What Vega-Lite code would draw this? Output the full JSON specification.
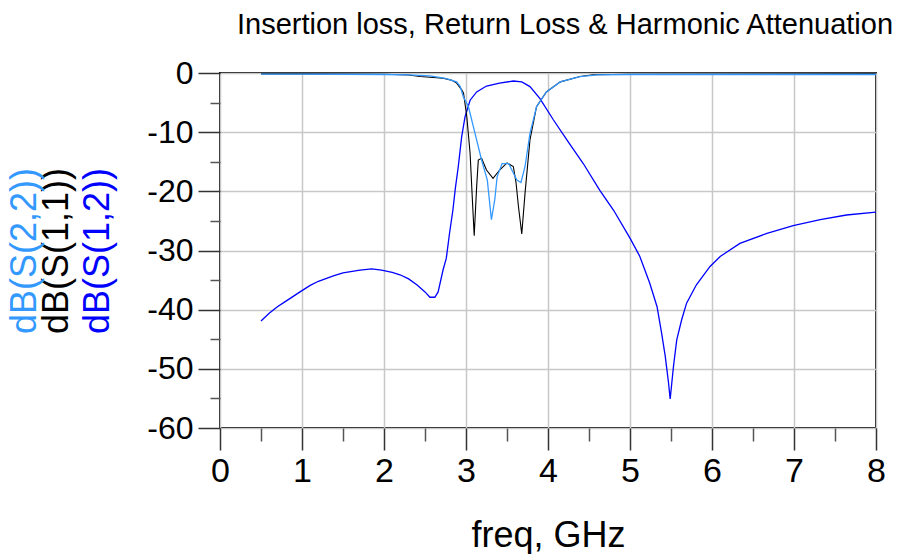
{
  "$schema": "https://vega.github.io/schema/vega-lite/v6.json",
  "width": 656,
  "height": 355,
  "autosize": "none",
  "padding": {"left": 220, "top": 73, "right": 26, "bottom": 126},
  "background": "white",
  "title": {
    "text": "Insertion loss, Return Loss & Harmonic Attenuation",
    "font": "Liberation Sans",
    "fontSize": 29,
    "fontWeight": "normal",
    "color": "black",
    "anchor": "middle",
    "frame": "group",
    "dx": 17,
    "offset": -6,
    "baseline": "alphabetic"
  },
  "config": {
    "view": {"stroke": "#111", "strokeWidth": 2},
    "axis": {
      "labelFont": "Liberation Sans",
      "titleFont": "Liberation Sans",
      "labelColor": "black",
      "titleColor": "black",
      "titleFontWeight": "normal",
      "gridColor": "#c8c8c8",
      "gridWidth": 1.5,
      "gridOpacity": 1,
      "tickColor": "#333",
      "tickWidth": 1.5,
      "domain": false
    }
  },
  "datasets": {
    "s12": [
      {"f": 0.5, "dB": -41.9}, {"f": 0.6, "dB": -40.6}, {"f": 0.7, "dB": -39.5}, {"f": 0.8, "dB": -38.6},
      {"f": 0.976, "dB": -37.0}, {"f": 1.1, "dB": -35.9}, {"f": 1.2, "dB": -35.2}, {"f": 1.382, "dB": -34.3},
      {"f": 1.5, "dB": -33.8}, {"f": 1.707, "dB": -33.3}, {"f": 1.85, "dB": -33.1}, {"f": 1.97, "dB": -33.3},
      {"f": 2.1, "dB": -33.7}, {"f": 2.195, "dB": -34.1}, {"f": 2.3, "dB": -34.8}, {"f": 2.4, "dB": -35.8},
      {"f": 2.5, "dB": -37.0}, {"f": 2.56, "dB": -37.9}, {"f": 2.62, "dB": -37.9}, {"f": 2.66, "dB": -37.0},
      {"f": 2.72, "dB": -33.3}, {"f": 2.76, "dB": -31.3}, {"f": 2.8, "dB": -27.0}, {"f": 2.84, "dB": -23.2},
      {"f": 2.87, "dB": -19.5}, {"f": 2.906, "dB": -15.8}, {"f": 2.947, "dB": -10.8}, {"f": 2.988, "dB": -7.4},
      {"f": 3.05, "dB": -4.6}, {"f": 3.13, "dB": -3.2}, {"f": 3.25, "dB": -2.2}, {"f": 3.41, "dB": -1.7},
      {"f": 3.577, "dB": -1.35}, {"f": 3.68, "dB": -1.5}, {"f": 3.78, "dB": -2.3}, {"f": 3.9, "dB": -4.3},
      {"f": 4.065, "dB": -7.9}, {"f": 4.23, "dB": -11.3}, {"f": 4.43, "dB": -15.3}, {"f": 4.63, "dB": -19.8},
      {"f": 4.8, "dB": -23.2}, {"f": 5.0, "dB": -27.9}, {"f": 5.12, "dB": -31.0}, {"f": 5.24, "dB": -35.5},
      {"f": 5.33, "dB": -39.5}, {"f": 5.386, "dB": -44.0}, {"f": 5.43, "dB": -47.9}, {"f": 5.47, "dB": -52.4},
      {"f": 5.49, "dB": -55.1}, {"f": 5.53, "dB": -49.6}, {"f": 5.57, "dB": -45.1}, {"f": 5.63, "dB": -41.7},
      {"f": 5.69, "dB": -38.9}, {"f": 5.81, "dB": -35.8}, {"f": 5.976, "dB": -32.7}, {"f": 6.1, "dB": -31.0},
      {"f": 6.34, "dB": -28.8}, {"f": 6.67, "dB": -27.1}, {"f": 6.99, "dB": -25.8}, {"f": 7.32, "dB": -24.8},
      {"f": 7.64, "dB": -24.0}, {"f": 8.0, "dB": -23.5}
    ],
    "s11": [
      {"f": 0.5, "dB": -0.15}, {"f": 1.0, "dB": -0.15}, {"f": 2.0, "dB": -0.2}, {"f": 2.3, "dB": -0.35},
      {"f": 2.44, "dB": -0.6}, {"f": 2.6, "dB": -0.75}, {"f": 2.72, "dB": -0.9}, {"f": 2.82, "dB": -1.2},
      {"f": 2.886, "dB": -1.7}, {"f": 2.95, "dB": -2.9}, {"f": 2.97, "dB": -3.4}, {"f": 3.01, "dB": -7.4},
      {"f": 3.05, "dB": -13.6}, {"f": 3.08, "dB": -22.0}, {"f": 3.1, "dB": -27.5}, {"f": 3.13, "dB": -19.2},
      {"f": 3.15, "dB": -14.7}, {"f": 3.19, "dB": -14.4}, {"f": 3.25, "dB": -16.4}, {"f": 3.33, "dB": -17.8},
      {"f": 3.41, "dB": -16.4}, {"f": 3.5, "dB": -15.2}, {"f": 3.577, "dB": -15.8}, {"f": 3.61, "dB": -18.5},
      {"f": 3.64, "dB": -22.6}, {"f": 3.68, "dB": -27.2}, {"f": 3.72, "dB": -20.3}, {"f": 3.78, "dB": -11.3},
      {"f": 3.86, "dB": -5.7}, {"f": 3.98, "dB": -3.2}, {"f": 4.15, "dB": -1.5}, {"f": 4.39, "dB": -0.6},
      {"f": 4.55, "dB": -0.3}, {"f": 5.0, "dB": -0.2}, {"f": 8.0, "dB": -0.15}
    ],
    "s22": [
      {"f": 0.5, "dB": -0.2}, {"f": 1.0, "dB": -0.2}, {"f": 2.0, "dB": -0.25}, {"f": 2.3, "dB": -0.3},
      {"f": 2.56, "dB": -0.5}, {"f": 2.75, "dB": -0.9}, {"f": 2.886, "dB": -1.5}, {"f": 2.93, "dB": -2.3},
      {"f": 2.967, "dB": -4.0}, {"f": 3.03, "dB": -5.7}, {"f": 3.11, "dB": -10.2}, {"f": 3.19, "dB": -14.7},
      {"f": 3.26, "dB": -18.1}, {"f": 3.31, "dB": -24.8}, {"f": 3.35, "dB": -21.5}, {"f": 3.38, "dB": -17.5},
      {"f": 3.44, "dB": -15.3}, {"f": 3.52, "dB": -15.3}, {"f": 3.62, "dB": -18.1}, {"f": 3.67, "dB": -18.5},
      {"f": 3.72, "dB": -15.8}, {"f": 3.78, "dB": -10.2}, {"f": 3.86, "dB": -5.7}, {"f": 3.98, "dB": -3.2},
      {"f": 4.15, "dB": -1.5}, {"f": 4.39, "dB": -0.6}, {"f": 4.6, "dB": -0.3}, {"f": 5.0, "dB": -0.25},
      {"f": 8.0, "dB": -0.25}
    ]
  },
  "layer": [
    {
      "data": {"name": "s12"},
      "mark": {"type": "line", "color": "#0000ff", "strokeWidth": 1.3, "clip": true},
      "encoding": {
        "x": {
          "field": "f", "type": "quantitative",
          "scale": {"domain": [0, 8], "nice": false, "zero": false},
          "axis": {
            "values": [0, 1, 2, 3, 4, 5, 6, 7, 8],
            "title": "freq, GHz", "titleFontSize": 36, "titlePadding": 30,
            "labelFontSize": 34, "labelPadding": 4, "tickSize": 22,
            "grid": true, "labelFlush": false
          }
        },
        "y": {
          "field": "dB", "type": "quantitative",
          "scale": {"domain": [-60, 0], "nice": false, "zero": false},
          "axis": {
            "orient": "left",
            "values": [0, -10, -20, -30, -40, -50, -60],
            "labelExpr": "'' + datum.value",
            "title": "dB(S(1,2))", "titleColor": "#0000ff", "titleFontSize": 36, "titlePadding": 30,
            "labelFontSize": 32, "labelPadding": 5, "tickSize": 22,
            "grid": true
          }
        }
      }
    },
    {
      "data": {"name": "s11"},
      "mark": {"type": "line", "color": "#000000", "strokeWidth": 1.1, "clip": true},
      "encoding": {
        "x": {
          "field": "f", "type": "quantitative",
          "axis": {
            "orient": "bottom",
            "values": [0.5, 1.5, 2.5, 3.5, 4.5, 5.5, 6.5, 7.5],
            "labels": false, "grid": false, "title": null, "tickSize": 13, "tickColor": "#555"
          }
        },
        "y": {
          "field": "dB", "type": "quantitative",
          "axis": {
            "orient": "left",
            "values": [-5, -15, -25, -35, -45, -55],
            "labels": false, "grid": false, "tickSize": 10, "tickColor": "#555",
            "title": "dB(S(1,1))", "titleColor": "#000000", "titleFontSize": 36, "titlePadding": 134
          }
        }
      }
    },
    {
      "data": {"name": "s22"},
      "mark": {"type": "line", "color": "#3399ff", "strokeWidth": 1.3, "clip": true},
      "encoding": {
        "x": {"field": "f", "type": "quantitative", "axis": null},
        "y": {
          "field": "dB", "type": "quantitative",
          "axis": {
            "orient": "left",
            "labels": false, "grid": false, "ticks": false,
            "title": "dB(S(2,2))", "titleColor": "#3399ff", "titleFontSize": 36, "titlePadding": 177
          }
        }
      }
    }
  ],
  "resolve": {"axis": {"x": "independent", "y": "independent"}}
}
